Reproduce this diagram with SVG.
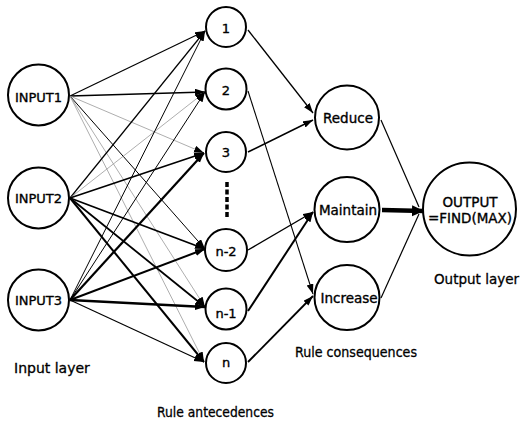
<svg xmlns="http://www.w3.org/2000/svg" width="521" height="421" viewBox="0 0 521 421">
<defs>
<marker id="ah" markerUnits="userSpaceOnUse" markerWidth="11" markerHeight="8" refX="10" refY="3.5" orient="auto"><path d="M0,0 L10,3.5 L0,7 z" fill="#000"/></marker>
<marker id="ahb" markerUnits="userSpaceOnUse" markerWidth="13" markerHeight="12" refX="12" refY="5.5" orient="auto"><path d="M0,0 L12,5.5 L0,11 z" fill="#000"/></marker>
</defs>
<style>
.n circle{fill:#fff;stroke:#000;stroke-width:2}
.n text{font-family:"DejaVu Sans",sans-serif;font-size:13px;text-anchor:middle;fill:#000;stroke:#000;stroke-width:0.35}
.c text{font-size:13.5px}
.lbl{font-family:"DejaVu Sans",sans-serif;font-size:14px;fill:#000;stroke:#000;stroke-width:0.3}
.e line{stroke:#000;marker-end:url(#ah)}
.g{stroke:#999 !important}
.nm line{marker-end:none}
</style>
<g id="connectors" class="e">
<line x1="70" y1="96" x2="205" y2="31" stroke-width="1.2"/>
<line x1="70" y1="96" x2="205" y2="92" stroke-width="1.4"/>
<line x1="70" y1="96" x2="204" y2="153" stroke-width="0.8" class="g"/>
<line x1="70" y1="96" x2="205" y2="249" stroke-width="1"/>
<line x1="70" y1="96" x2="205" y2="307" stroke-width="0.8" class="g"/>
<line x1="70" y1="96" x2="204" y2="362" stroke-width="0.8" class="g"/>
<line x1="70" y1="198" x2="205" y2="31" stroke-width="1.2"/>
<line x1="70" y1="198" x2="205" y2="92" stroke-width="0.8" class="g"/>
<line x1="70" y1="198" x2="204" y2="153" stroke-width="1.6"/>
<line x1="70" y1="198" x2="205" y2="249" stroke-width="1.8"/>
<line x1="70" y1="198" x2="205" y2="307" stroke-width="1.8"/>
<line x1="70" y1="198" x2="204" y2="362" stroke-width="2"/>
<line x1="70" y1="300" x2="205" y2="31" stroke-width="1"/>
<line x1="70" y1="300" x2="205" y2="92" stroke-width="1"/>
<line x1="70" y1="300" x2="204" y2="153" stroke-width="2.2"/>
<line x1="70" y1="300" x2="205" y2="249" stroke-width="2"/>
<line x1="70" y1="300" x2="205" y2="307" stroke-width="2.4"/>
<line x1="70" y1="300" x2="204" y2="362" stroke-width="1.2"/>
<line x1="248" y1="30" x2="313" y2="113" stroke-width="1.3"/>
<line x1="248" y1="152" x2="313" y2="120" stroke-width="1.6"/>
<line x1="248" y1="91" x2="313" y2="294" stroke-width="1.1"/>
<line x1="248" y1="362" x2="313" y2="296" stroke-width="1.8"/>
<line x1="248" y1="250" x2="313" y2="212" stroke-width="1.4"/>
<line x1="248" y1="311" x2="313" y2="212" stroke-width="2"/>
<g class="nm">
<line x1="381" y1="120" x2="419" y2="207" stroke-width="1.2"/>
<line x1="381" y1="298" x2="419" y2="214" stroke-width="1.2"/>
</g>
<line x1="382" y1="210" x2="424" y2="211" stroke-width="4.5" style="marker-end:url(#ahb)"/>
</g>
<line id="ellipsis" x1="227" y1="182" x2="227" y2="218" stroke="#000" stroke-width="3.5" stroke-dasharray="5 2.5"/>
<g id="input1" class="n"><circle cx="38.5" cy="95" r="30.5"/><text x="38.5" y="102">INPUT1</text></g>
<g id="input2" class="n"><circle cx="38.5" cy="198" r="30.5"/><text x="38.5" y="203">INPUT2</text></g>
<g id="input3" class="n"><circle cx="38.5" cy="300" r="30.5"/><text x="38.5" y="305">INPUT3</text></g>
<g id="r1" class="n"><circle cx="226" cy="27" r="20"/><text x="226" y="33">1</text></g>
<g id="r2" class="n"><circle cx="226" cy="89" r="20.5"/><text x="226" y="95">2</text></g>
<g id="r3" class="n"><circle cx="226" cy="152" r="20"/><text x="226" y="157">3</text></g>
<g id="rn2" class="n"><circle cx="226" cy="250" r="21"/><text x="226" y="256">n-2</text></g>
<g id="rn1" class="n"><circle cx="226" cy="309" r="20.5"/><text x="226" y="318">n-1</text></g>
<g id="rn" class="n"><circle cx="226" cy="363" r="20"/><text x="226" y="367">n</text></g>
<g id="reduce" class="n c"><circle cx="347" cy="117.5" r="32"/><text x="348" y="123">Reduce</text></g>
<g id="maintain" class="n c"><circle cx="347" cy="209.5" r="32.5"/><text x="348" y="215">Maintain</text></g>
<g id="increase" class="n c"><circle cx="347" cy="297.5" r="32.5"/><text x="349" y="303">Increase</text></g>
<g id="output" class="n c"><circle cx="469.5" cy="209" r="46.5"/><text x="470" y="207">OUTPUT</text><text x="470" y="223">=FIND(MAX)</text></g>
<text class="lbl" x="14" y="373">Input layer</text>
<text class="lbl" x="157" y="417" textLength="117" lengthAdjust="spacingAndGlyphs">Rule antecedences</text>
<text class="lbl" x="295" y="357" textLength="122" lengthAdjust="spacingAndGlyphs">Rule consequences</text>
<text class="lbl" x="434" y="284" textLength="85" lengthAdjust="spacingAndGlyphs">Output layer</text>
</svg>
